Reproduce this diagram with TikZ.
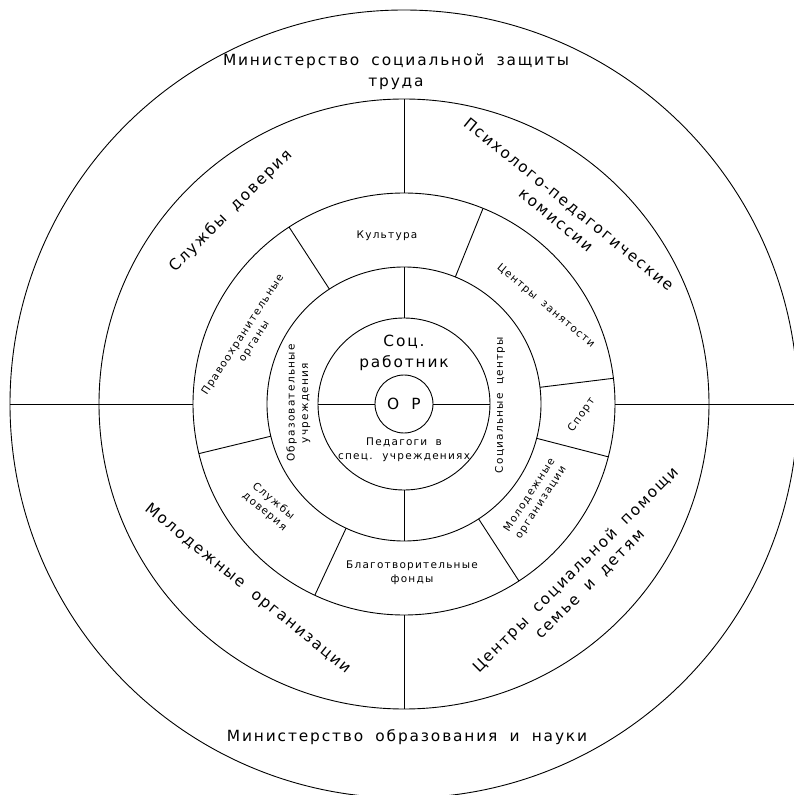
\documentclass[tikz,border=0pt]{standalone}
\usepackage{fontspec}
\setmainfont{DejaVu Sans}[LetterSpace=12,WordSpace=1.8]
\newcommand{\bigtext}{\fontsize{15.4}{20.5}\selectfont}
\newcommand{\smalltext}{\fontsize{10.5}{13.5}\selectfont}
\begin{document}
\begin{tikzpicture}[x=1pt,y=1pt,line width=0.9pt]
	\tikzstyle{every node}+=[inner sep=0pt,align=center]
	\tikzstyle{bigname}=[font=\bigtext]
	\tikzstyle{smallname}=[font=\smalltext]
	\useasboundingbox (-404,-391) rectangle (390,404);
	\clip (-404,-391) rectangle (390,404);
	\draw [black] (0,0) circle (29);
	\draw [black] (0,0) circle (86);
	\draw [black] (0,0) circle (137);
	\draw [black] (0,0) circle (211);
	\draw [black] (0,0) circle (305);
	\draw [black] (0,0) circle (394);
	\draw [black] (-394,0) -- (-211,0);
	\draw [black] (211,0) -- (394,0);
	\draw [black] (-86,0) -- (-29,0);
	\draw [black] (29,0) -- (86,0);
	\draw [black] (0,211) -- (0,305);
	\draw [black] (0,-211) -- (0,-305);
	\draw [black] (0,86) -- (0,137);
	\draw [black] (0,-86) -- (0,-137);
	\draw [black] (123:137) -- (123:211);
	\draw [black] (68:137) -- (68:211);
	\draw [black] (7:137) -- (7:211);
	\draw [black] (-14.5:137) -- (-14.5:211);
	\draw [black] (-57:137) -- (-57:211);
	\draw [black] (-115:137) -- (-115:211);
	\draw [black] (193.6:137) -- (193.6:211);
	\draw (-8,332) node [bigname] (minsoc) {Министерство социальной защиты\\труда};
	\draw (3,-333) node [bigname] (minobr) {Министерство образования и науки};
	\draw (-173,193) node [bigname,rotate=45] (trust) {Службы доверия};
	\draw (158.5,192) node [bigname,rotate=-39] (ppk) {Психолого-педагогические\\комиссии};
	\draw (-156.5,-185) node [bigname,rotate=-39] (youth) {Молодежные организации};
	\draw (179,-173) node [bigname,rotate=45] (family) {Центры социальной помощи\\семье и детям};
	\draw (-17,168) node [smallname] (culture) {Культура};
	\draw (-155.3,65.7) node [smallname,rotate=57] (police) {Правоохранительные\\органы};
	\draw (-135,-102.5) node [smallname,rotate=-40] (trusttwo) {Службы\\доверия};
	\draw (8,-169) node [smallname] (charity) {Благотворительные\\фонды};
	\draw (131.4,-95) node [smallname,rotate=57] (youthtwo) {Молодежные\\организации};
	\draw (177.7,-11) node [smallname,rotate=55] (sport) {Спорт};
	\draw (141.8,98.2) node [smallname,rotate=-40] (jobs) {Центры занятости};
	\draw (-105.7,1) node [smallname,rotate=90] (schools) {Образовательные\\учреждения};
	\draw (96,-1) node [smallname,rotate=90] (social) {Социальные центры};
	\draw (0,51) node [bigname] (worker) {Соц.\\работник};
	\draw (0,-46) node [smallname] (teachers) {Педагоги в\\спец. учреждениях};
	\draw (0,0) node [bigname] (op) {О Р};
\end{tikzpicture}
\end{document}
